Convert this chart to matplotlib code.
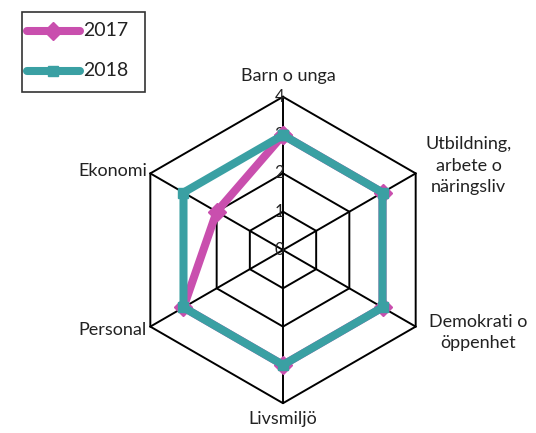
import numpy as np
import matplotlib
matplotlib.use("Agg")
import matplotlib.pyplot as plt
from matplotlib.lines import Line2D
from matplotlib.patches import Rectangle

categories = ["Barn o unga", "Utbildning,\narbete o\nnäringsliv", "Demokrati o\nöppenhet",
              "Livsmiljö", "Personal", "Ekonomi"]
values_2017 = [3, 3, 3, 3, 3, 2]
values_2018 = [3, 3, 3, 3, 3, 3]
series_names = ["2017", "2018"]
tick_labels = ["0", "1", "2", "3", "4"]
rmax = 4

plt.rcParams['font.family'] = ['Lato', 'DejaVu Sans']

W, H = 536, 433
fig = plt.figure(figsize=(W / 100, H / 100), dpi=100)
ax = fig.add_axes([0, 0, 1, 1])
cx, cy, unit = 283, 250, 38.3
ax.set_xlim((0 - cx) / unit, (W - cx) / unit)
ax.set_ylim((cy - H) / unit, (cy - 0) / unit)
ax.axis('off')

n = len(categories)
ang = np.pi / 2 - np.arange(n) * 2 * np.pi / n  # clockwise from top

def xy(vals):
    v = np.asarray(vals, dtype=float)
    x = v * np.cos(ang)
    y = v * np.sin(ang)
    return np.append(x, x[0]), np.append(y, y[0])

# grid hexagons
for r in range(1, rmax + 1):
    gx, gy = xy([r] * n)
    ax.plot(gx, gy, color='black', lw=1.4, zorder=1)
for a in ang:
    ax.plot([0, rmax * np.cos(a)], [0, rmax * np.sin(a)], color='black', lw=1.4, zorder=1)

# tick labels
for i, t in enumerate(tick_labels):
    ax.text(-0.1, i, t, ha='center', va='center', fontsize=12, color='#222222', zorder=2)

c17 = '#C94FAE'
c18 = '#3AA0A3'
lw = 5.8
x17, y17 = xy(values_2017)
x18, y18 = xy(values_2018)
ax.plot(x17, y17, color=c17, lw=lw, marker='D', ms=9, zorder=3, solid_joinstyle='miter')
ax.plot(x18, y18, color=c18, lw=lw, marker='s', ms=7, zorder=4, solid_joinstyle='miter')

# category labels
lab = dict(fontsize=13, color='#222222')
ax.text(0.15, 4.55, categories[0], ha='center', va='center', **lab)
ax.text(4.85, 2.2, categories[1], ha='center', va='center', linespacing=1.42, **lab)
ax.text(5.1, -2.15, categories[2], ha='center', va='center', linespacing=1.42, **lab)
ax.text(0.0, -4.4, categories[3], ha='center', va='center', **lab)
ax.text(-3.55, -2.1, categories[4], ha='right', va='center', **lab)
ax.text(-3.55, 2.05, categories[5], ha='right', va='center', **lab)

# legend drawn in figure pixel space
def fx(px):
    return px / W

def fy(py):
    return 1 - py / H

fig.patches.append(Rectangle((fx(22), fy(92)), fx(145) - fx(22), fy(12) - fy(92),
                             transform=fig.transFigure, fill=False, edgecolor='#333333',
                             lw=1.2, figure=fig))
for name, col, mk, ms, py in [(series_names[0], c17, 'D', 9, 31),
                              (series_names[1], c18, 's', 7, 71)]:
    fig.lines.append(Line2D([fx(27), fx(80)], [fy(py), fy(py)], transform=fig.transFigure,
                            color=col, lw=lw, solid_capstyle='round', figure=fig))
    fig.lines.append(Line2D([fx(53)], [fy(py)], transform=fig.transFigure, color=col,
                            marker=mk, ms=ms, lw=0, figure=fig))
    fig.text(fx(83), fy(py), name, ha='left', va='center', fontsize=14, color='#222222')

fig.savefig('out.png', dpi=100)
